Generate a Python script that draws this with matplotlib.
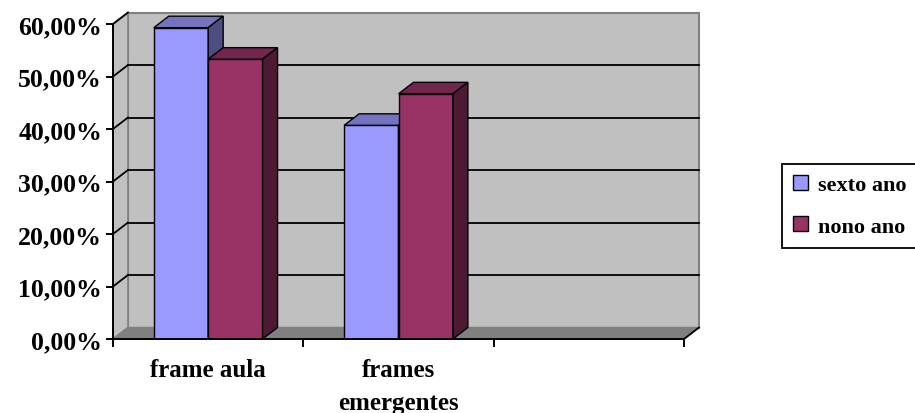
import matplotlib.pyplot as plt
from matplotlib.patches import Polygon, Patch

# Dados do gráfico (percentuais)
categorias = ['frame aula', 'frames\nemergentes', '']
series = ['sexto ano', 'nono ano']
sexto_ano = [59.3, 40.7, 0]
nono_ano = [53.3, 46.7, 0]
y_ticks = [0, 10, 20, 30, 40, 50, 60]

# cores: frente, topo, lateral
cores = {
    'sexto ano': ('#9999ff', '#7373c0', '#4d4d80'),
    'nono ano': ('#993366', '#73264d', '#4d1a33'),
}

plt.rcParams['font.family'] = ['Liberation Serif', 'DejaVu Serif']
plt.rcParams['font.weight'] = 'bold'

fig = plt.figure(figsize=(9.15, 4.14), dpi=100)
ax = fig.add_axes([113 / 915, 74 / 414, 571 / 915, 315 / 414])
ax.set_xlim(0, len(categorias))
ax.set_ylim(0, 60)
ax.patch.set_alpha(0)

# deslocamento da profundidade (efeito 3D) em unidades de dados
DX = 15 / 190.33
DY = 11.5 / 5.25
n = len(categorias)
ymax = y_ticks[-1]

# paredes e piso
parede_fundo = Polygon([(DX, DY), (n + DX, DY), (n + DX, ymax + DY), (DX, ymax + DY)],
                       facecolor='#c0c0c0', edgecolor='#808080', lw=1.5, clip_on=False, zorder=0)
parede_lado = Polygon([(0, 0), (DX, DY), (DX, ymax + DY), (0, ymax)],
                      facecolor='#c0c0c0', edgecolor='#808080', lw=1.2, clip_on=False, zorder=0)
piso = Polygon([(0, 0), (n, 0), (n + DX, DY), (DX, DY)],
               facecolor='#808080', edgecolor='#808080', lw=1, clip_on=False, zorder=0.5)
for p in (parede_fundo, parede_lado, piso):
    ax.add_patch(p)
ax.plot([n, n + DX], [0, DY], color='black', lw=1.3, clip_on=False, zorder=1)

# linhas de grade na parede do fundo e na lateral
for v in y_ticks[1:]:
    if v < ymax:
        ax.plot([DX, n + DX], [v + DY, v + DY], color='black', lw=1.3, clip_on=False, zorder=1)
    ax.plot([0, DX], [v, v + DY], color='black', lw=1.3, clip_on=False, zorder=1)

# barras 3D
w = 1 / 3.5
margem = (1 - 2 * w) / 2
z = 3
for j in range(n):
    for i, (nome, vals) in enumerate(zip(series, [sexto_ano, nono_ano])):
        v = vals[j]
        if v <= 0:
            continue
        frente, topo, lado = cores[nome]
        x0 = j + margem + i * w
        ax.bar(x0, v, width=w, align='edge', color=frente, edgecolor='black', lw=1, zorder=z)
        ax.add_patch(Polygon([(x0, v), (x0 + w, v), (x0 + w + DX, v + DY), (x0 + DX, v + DY)],
                             facecolor=topo, edgecolor='black', lw=1, clip_on=False, zorder=z))
        ax.add_patch(Polygon([(x0 + w, 0), (x0 + w + DX, DY), (x0 + w + DX, v + DY), (x0 + w, v)],
                             facecolor=lado, edgecolor='black', lw=1, clip_on=False, zorder=z))
        z += 1

# eixos
for s in ('top', 'right'):
    ax.spines[s].set_visible(False)
for s in ('left', 'bottom'):
    ax.spines[s].set_linewidth(1.4)
    ax.spines[s].set_zorder(20)

ax.set_yticks(y_ticks)
ax.set_yticklabels([f'{v:.2f}%'.replace('.', ',') for v in y_ticks], fontsize=18.5, fontweight='bold')
ax.tick_params(axis='y', length=5, width=1.4, pad=3)

ax.set_xticks(range(n + 1))
ax.set_xticklabels([''] * (n + 1))
ax.tick_params(axis='x', which='major', length=6, width=1.4)
ax.set_xticks([j + 0.5 for j in range(n)], minor=True)
ax.set_xticklabels(categorias, minor=True, fontsize=18, fontweight='bold', linespacing=1.55)
ax.tick_params(axis='x', which='minor', length=0, pad=14)

# legenda
handles = [Patch(facecolor=cores[s][0], edgecolor='black', lw=1) for s in series]
leg = fig.legend(handles, series, loc='upper left', bbox_to_anchor=(782 / 915, 1 - 165 / 414),
                 frameon=True, fancybox=False, edgecolor='black', framealpha=1,
                 handlelength=0.65, handleheight=0.65, handletextpad=0.45,
                 labelspacing=0.95, borderpad=0.5, borderaxespad=0,
                 prop={'family': 'Liberation Serif', 'weight': 'bold', 'size': 16})
leg.get_frame().set_linewidth(1.3)

fig.savefig('out.png', dpi=100)
